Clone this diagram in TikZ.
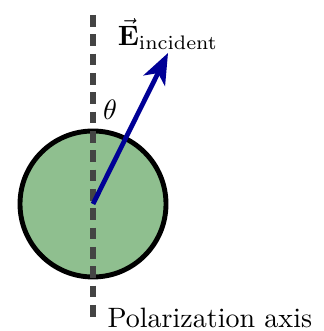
\documentclass[tikz,border=0pt]{standalone}
\usepackage{xcolor}
\usepackage{tikz}
\usetikzlibrary{arrows.meta}
\definecolor{PartFill}{HTML}{8FBF8F}
\definecolor{AxisGray}{HTML}{444444}
\definecolor{FieldBlue}{HTML}{000096}

\begin{document}
\begin{tikzpicture}[x=0.357pt,y=0.357pt]
\path[use as bounding box] (0,0) rectangle (324,331);
\node[circle,draw=black,line width=1.75pt,fill=PartFill,minimum size=146*0.357pt,inner sep=0pt] (particle) at (93,127) {};
\coordinate (axistop) at (93,316);
\coordinate (axisbot) at (93,14);
\draw[AxisGray,line width=1.8pt,dash pattern=on 4.2pt off 2.7pt] (axistop) -- (axisbot);
\coordinate (tip) at (168,278);
\draw[FieldBlue,line width=1.7pt,-{Stealth[length=11pt,width=8.5pt,inset=3pt]}] (particle.center) -- (tip);
\node (theta) at (110,221) {$\theta$};
\node (efield) at (168,297) {$\vec{\mathbf{E}}_{\mathrm{incident}}$};
\node[anchor=base west,inner sep=0pt] (axislabel) at (107,3) {Polarization axis};
\end{tikzpicture}
\end{document}
